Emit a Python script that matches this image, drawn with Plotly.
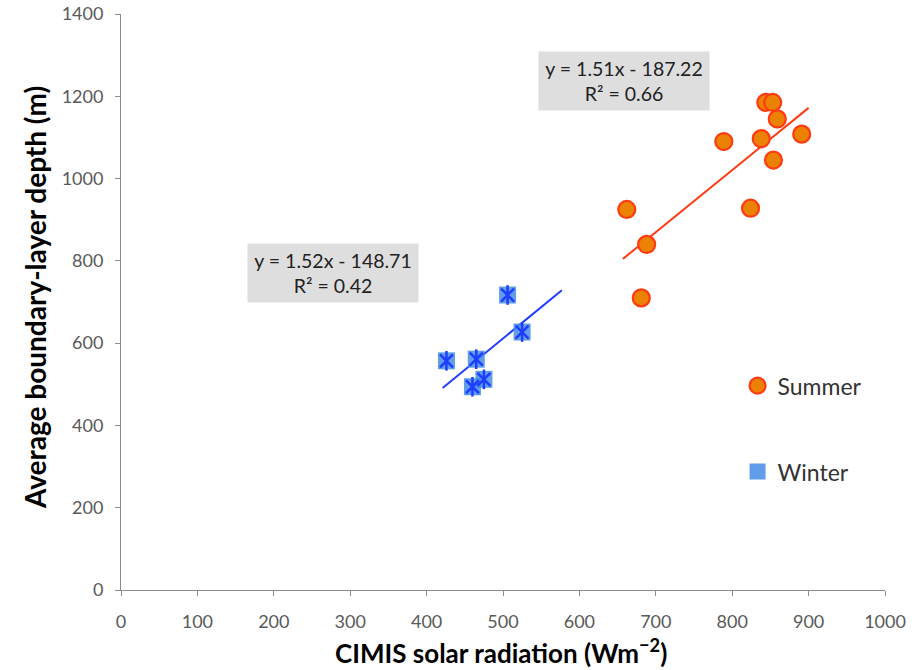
import plotly.graph_objects as go

# ---- data ----
summer_x = [662, 688, 681, 789, 824, 838, 844, 853, 859, 854, 891]
summer_y = [925, 840, 710, 1090, 928, 1097, 1185, 1185, 1145, 1045, 1108]
winter_x = [506, 525, 426, 465, 475, 460]
winter_y = [717, 627, 557, 561, 512, 494]

summer_fit = (1.51, -187.22)
winter_fit = (1.52, -148.71)
summer_fit_x = [657, 900]
winter_fit_x = [421, 577]
summer_label = "y = 1.51x - 187.22<br>R² = 0.66"
winter_label = "y = 1.52x - 148.71<br>R² = 0.42"

x_title = "<b>CIMIS solar radiation (Wm<sup>−2</sup>)</b>"
y_title = "<b>Average boundary-layer depth (m)</b>"

x_ticks = [0, 100, 200, 300, 400, 500, 600, 700, 800, 900, 1000]
y_ticks = [0, 200, 400, 600, 800, 1000, 1200, 1400]

FONT = "Lato, 'Open Sans', sans-serif"
ORANGE_FILL = "#EC8205"
ORANGE_LINE = "#FF3A12"
BLUE_LINE = "#1E3DFF"
BLUE_FILL = "rgba(70,140,230,0.85)"

fig = go.Figure()

# trend lines
fig.add_trace(go.Scatter(
    x=summer_fit_x, y=[summer_fit[0] * v + summer_fit[1] for v in summer_fit_x],
    mode="lines", line=dict(color=ORANGE_LINE, width=2), showlegend=False, hoverinfo="skip"))
fig.add_trace(go.Scatter(
    x=winter_fit_x, y=[winter_fit[0] * v + winter_fit[1] for v in winter_fit_x],
    mode="lines", line=dict(color=BLUE_LINE, width=2), showlegend=False, hoverinfo="skip"))

# summer points
fig.add_trace(go.Scatter(
    x=summer_x, y=summer_y, mode="markers", name="Summer",
    legendgroup="s",
    marker=dict(symbol="circle", size=17, color=ORANGE_FILL,
                line=dict(color=ORANGE_LINE, width=2.2))))

# winter points: filled square + asterisk strokes
fig.add_trace(go.Scatter(
    x=winter_x, y=winter_y, mode="markers", name="Winter",
    legendgroup="w",
    marker=dict(symbol="square", size=17, color=BLUE_FILL, line=dict(width=0))))
fig.add_trace(go.Scatter(
    x=winter_x, y=winter_y, mode="markers", showlegend=False, legendgroup="w",
    marker=dict(symbol="x-thin-open", size=13, color=BLUE_LINE,
                line=dict(color=BLUE_LINE, width=2.5)),
    hoverinfo="skip"))
fig.add_trace(go.Scatter(
    x=winter_x, y=winter_y, mode="markers", showlegend=False, legendgroup="w",
    marker=dict(symbol="line-ns-open", size=14, color=BLUE_LINE,
                line=dict(color=BLUE_LINE, width=2.5)),
    hoverinfo="skip"))

axis_common = dict(
    showgrid=False, zeroline=False, showline=True, linecolor="#8C8C8C", linewidth=1,
    ticks="outside", ticklen=5, tickcolor="#8C8C8C", automargin=False,
    ticklabeloverflow="allow",
    tickfont=dict(family=FONT, size=18, color="#595959"),
)

fig.update_layout(
    width=912, height=670,
    margin=dict(l=121, r=27, t=14, b=80),
    paper_bgcolor="white", plot_bgcolor="white",
    font=dict(family=FONT),
    xaxis=dict(range=[0, 1000], tickvals=x_ticks, ticklabelstandoff=10, **axis_common),
    yaxis=dict(range=[0, 1400], tickvals=y_ticks, ticklabelstandoff=8, **axis_common),
    legend=dict(x=0.807, y=0.392, xanchor="left", yanchor="top",
                font=dict(family=FONT, size=23, color="#333333"),
                tracegroupgap=53, bgcolor="rgba(0,0,0,0)", itemwidth=30),
    showlegend=True,
)

# axis titles
fig.add_annotation(x=0.497, y=-0.106, xref="paper", yref="paper", text=x_title,
                   showarrow=False, xanchor="center", yanchor="middle",
                   font=dict(family=FONT, size=26, color="black"))
fig.add_annotation(x=-0.1125, y=0.507, xref="paper", yref="paper", text=y_title,
                   showarrow=False, xanchor="center", yanchor="middle", textangle=-90,
                   font=dict(family=FONT, size=28, color="black"))

# regression labels
fig.add_annotation(x=659, y=1237, text=summer_label, showarrow=False,
                   font=dict(family=FONT, size=19.5, color="#222222"),
                   bgcolor="#DEDEDE", borderpad=5, width=160, height=48, align="center")
fig.add_annotation(x=277, y=770, text=winter_label, showarrow=False,
                   font=dict(family=FONT, size=19.5, color="#222222"),
                   bgcolor="#DEDEDE", borderpad=5, width=160, height=48, align="center")

fig.write_html("out.html", config={"displayModeBar": False},
               post_script="document.body.style.margin='0';document.body.style.overflow='hidden';")
